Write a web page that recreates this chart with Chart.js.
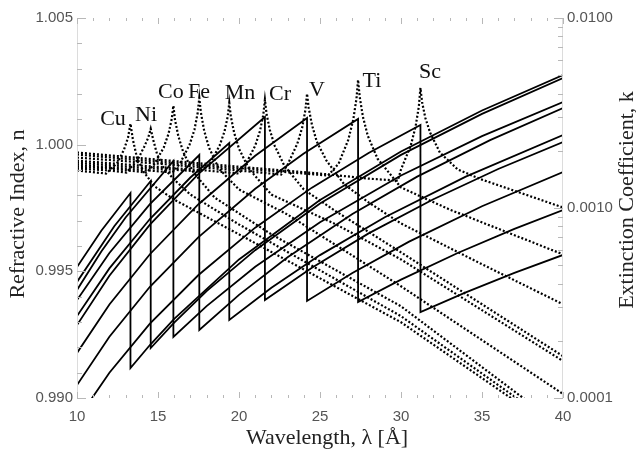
<!DOCTYPE html>
<html>
<head>
<meta charset="utf-8">
<title>Refractive index and extinction coefficient, Sc to Cu</title>
<script src="https://cdn.jsdelivr.net/npm/chart.js@4/dist/chart.umd.min.js"></script>
<style>
  html, body { margin: 0; padding: 0; background: #fff; }
  canvas { display: block; }
</style>
</head>
<body>
<canvas id="chart" width="636" height="452"></canvas>
<script>
const elements = ['Cu', 'Ni', 'Co', 'Fe', 'Mn', 'Cr', 'V', 'Ti', 'Sc'];

// extinction coefficient k, [wavelength in Å, k]; the repeated wavelength is the L edge
const kCu = [[10, 4.89e-4], [11.5, 7.59e-4], [13.3, 1.199e-3], [13.3, 1.438e-4], [14.5, 1.90e-4], [16, 2.61e-4], [20, 5.36e-4], [25, 1.101e-3], [30, 1.982e-3], [35, 3.26e-3], [40, 5.01e-3]];
const kNi = [[10, 4.08e-4], [12.3, 8.02e-4], [14.55, 1.387e-3], [14.55, 1.832e-4], [16, 2.49e-4], [18, 3.65e-4], [21, 6.00e-4], [25, 1.056e-3], [30, 1.903e-3], [35, 3.13e-3], [40, 4.83e-3]];
const kCo = [[10, 3.70e-4], [11.5, 5.91e-4], [13, 8.91e-4], [15.95, 1.768e-3], [15.95, 2.094e-4], [18, 3.045e-4], [21, 4.91e-4], [25, 8.42e-4], [30, 1.482e-3], [35, 2.388e-3], [40, 3.61e-3]];
const kFe = [[10, 3.28e-4], [12, 5.80e-4], [14.5, 1.047e-3], [17.55, 1.901e-3], [17.55, 2.28e-4], [20, 3.49e-4], [23, 5.51e-4], [27, 9.31e-4], [31, 1.462e-3], [35.5, 2.276e-3], [40, 3.36e-3]];
const kMn = [[10, 2.70e-4], [12, 4.81e-4], [14.5, 8.75e-4], [17, 1.447e-3], [19.4, 2.198e-3], [19.4, 2.575e-4], [22, 3.80e-4], [25, 5.65e-4], [29, 8.94e-4], [34, 1.463e-3], [40, 2.42e-3]];
const kCr = [[10, 2.42e-4], [12, 4.40e-4], [14.5, 8.17e-4], [17.5, 1.513e-3], [21.6, 3.013e-3], [21.6, 3.28e-4], [24.5, 4.85e-4], [28, 7.35e-4], [32, 1.112e-3], [36, 1.604e-3], [40, 2.225e-3]];
const kV  = [[10, 1.726e-4], [12, 3.105e-4], [14.5, 5.71e-4], [17.5, 1.047e-3], [21, 1.884e-3], [24.2, 2.977e-3], [24.2, 3.24e-4], [27, 4.55e-4], [30.5, 6.65e-4], [35, 1.021e-3], [40, 1.547e-3]];
const kTi = [[10, 1.17e-4], [12, 2.10e-4], [14.5, 3.85e-4], [17.5, 7.03e-4], [21, 1.262e-3], [24, 1.935e-3], [27.35, 2.941e-3], [27.35, 3.20e-4], [30, 4.20e-4], [33.5, 5.80e-4], [37, 7.76e-4], [40, 9.76e-4]];
const kSc = [[10, 7.66e-5], [12, 1.358e-4], [14.5, 2.46e-4], [17.5, 4.44e-4], [21, 7.88e-4], [24.5, 1.280e-3], [28, 1.946e-3], [31.2, 2.734e-3], [31.2, 2.835e-4], [34, 3.60e-4], [37, 4.56e-4], [40, 5.66e-4]];

// refractive index n, [wavelength in Å, n]
const nCu = [[10, 0.99898], [11.8, 0.99886], [12.5, 0.99929], [12.9, 0.99980], [13.15, 1.00028], [13.3, 1.00083], [13.45, 1.00020], [13.7, 0.99949], [14.1, 0.99894], [14.8, 0.99835], [16, 0.99783], [20, 0.99646], [30, 0.99299], [40, 0.98858]];
const nNi = [[10, 0.99906], [12, 0.99898], [13.05, 0.99890], [13.75, 0.99941], [14.15, 0.99992], [14.4, 1.00028], [14.55, 1.00063], [14.7, 1.00020], [14.95, 0.99961], [15.35, 0.99909], [16, 0.99862], [17, 0.99803], [20, 0.99685], [30, 0.99323], [40, 0.98870]];
const nCo = [[10, 0.99913], [12, 0.99906], [14.3, 0.99890], [14.75, 0.99921], [15.35, 0.99988], [15.65, 1.00043], [15.85, 1.00102], [15.95, 1.00154], [16.05, 1.00098], [16.25, 1.00035], [16.55, 0.99972], [17.15, 0.99894], [18.5, 0.99791], [22, 0.99646], [30, 0.99362], [40, 0.98882]];
const nFe = [[10, 0.99921], [13, 0.99906], [15.9, 0.99890], [16.35, 0.99925], [16.95, 1.00000], [17.25, 1.00059], [17.45, 1.00126], [17.55, 1.00185], [17.65, 1.00126], [17.85, 1.00055], [18.15, 0.99988], [18.75, 0.99906], [20, 0.99823], [23, 0.99724], [30, 0.99441], [40, 0.99016]];
const nMn = [[10, 0.99929], [14, 0.99909], [17.6, 0.99894], [18.2, 0.99925], [18.8, 0.99996], [19.1, 1.00051], [19.3, 1.00110], [19.4, 1.00165], [19.5, 1.00110], [19.7, 1.00047], [20.0, 0.99984], [20.6, 0.99906], [22, 0.99803], [26, 0.99685], [30, 0.99547], [40, 0.99146]];
const nCr = [[10, 0.99937], [14, 0.99917], [18, 0.99898], [20, 0.99886], [20.4, 0.99921], [21.0, 0.99996], [21.3, 1.00055], [21.5, 1.00118], [21.6, 1.00177], [21.7, 1.00122], [21.9, 1.00059], [22.2, 0.99996], [22.8, 0.99917], [24, 0.99823], [26, 0.99736], [30, 0.99575], [35, 0.99370], [40, 0.99165]];
const nV  = [[10, 0.99949], [15, 0.99925], [20, 0.99898], [22.6, 0.99882], [23.0, 0.99921], [23.6, 1.00004], [23.9, 1.00067], [24.1, 1.00138], [24.2, 1.00201], [24.3, 1.00146], [24.5, 1.00079], [24.8, 1.00012], [25.4, 0.99937], [26.5, 0.99843], [28, 0.99772], [30, 0.99689], [35, 0.99528], [40, 0.99370]];
const nTi = [[10, 0.99961], [15, 0.99933], [20, 0.99906], [24, 0.99886], [25.5, 0.99878], [26.15, 0.99925], [26.75, 1.00020], [27.05, 1.00098], [27.25, 1.00181], [27.35, 1.00256], [27.45, 1.00189], [27.65, 1.00110], [27.95, 1.00035], [28.55, 0.99945], [30, 0.99831], [33, 0.99744], [40, 0.99567]];
const nSc = [[10, 0.99969], [15, 0.99941], [20, 0.99913], [25, 0.99886], [28, 0.99866], [29.8, 0.99858], [30.0, 0.99902], [30.6, 0.99996], [30.9, 1.00071], [31.1, 1.00150], [31.2, 1.00224], [31.3, 1.00169], [31.5, 1.00106], [31.8, 1.00047], [32.4, 0.99969], [33.5, 0.99902], [35, 0.99862], [40, 0.99752]];

const kSeries = [kCu, kNi, kCo, kFe, kMn, kCr, kV, kTi, kSc];
const nSeries = [nCu, nNi, nCo, nFe, nMn, nCr, nV, nTi, nSc];

// tick labels
const lambdaTicks = [10, 15, 20, 25, 30, 35, 40];
const nTicks = [0.990, 0.995, 1.000, 1.005];
const kTicks = [0.0001, 0.0010, 0.0100];

// where the element names sit (wavelength, n)
const labelLambda = [12.22, 14.26, 15.80, 17.53, 20.06, 22.53, 24.81, 28.21, 31.79];
const labelN = [1.00102, 1.00118, 1.00209, 1.00209, 1.00205, 1.00201, 1.00213, 1.00252, 1.00287];

const serif = '"Liberation Serif", "Times New Roman", serif';

function toPoints(list) {
  return list.map(p => ({ x: p[0], y: p[1] }));
}

const datasets = [];
elements.forEach((el, i) => {
  datasets.push({
    label: el + ' n',
    data: toPoints(nSeries[i]),
    yAxisID: 'n',
    borderColor: '#000',
    borderWidth: 2.2,
    borderDash: [2, 2],
    pointRadius: 0,
    tension: 0,
    fill: false
  });
  datasets.push({
    label: el + ' k',
    data: toPoints(kSeries[i]),
    yAxisID: 'k',
    borderColor: '#000',
    borderWidth: 1.8,
    pointRadius: 0,
    tension: 0,
    fill: false
  });
});

// inward ticks, faint axis lines, element names and axis titles
const frame = {
  id: 'frame',
  afterDatasetsDraw(chart) {
    const { ctx, chartArea: area, scales } = chart;
    const xs = scales.x, ns = scales.n, ks = scales.k;
    ctx.save();
    ctx.lineWidth = 1;

    ctx.strokeStyle = '#dcdcdc';
    ctx.beginPath();
    ctx.moveTo(area.left + 0.5, area.top);
    ctx.lineTo(area.left + 0.5, area.bottom);
    ctx.moveTo(area.right - 0.5, area.top);
    ctx.lineTo(area.right - 0.5, area.bottom);
    ctx.stroke();

    ctx.strokeStyle = '#b8b8b8';
    ctx.beginPath();
    for (let i = 0; i <= 15; i++) {
      const y = Math.round(ns.getPixelForValue(0.990 + i * 0.001)) + 0.5;
      const len = i % 5 === 0 ? 9 : 5;
      ctx.moveTo(area.left, y);
      ctx.lineTo(area.left + len, y);
    }
    for (let d = -4; d <= -2; d++) {
      for (let m = 1; m <= 9; m++) {
        if (d === -2 && m > 1) break;
        const y = Math.round(ks.getPixelForValue(m * Math.pow(10, d))) + 0.5;
        const len = m === 1 ? 9 : 5;
        ctx.moveTo(area.right, y);
        ctx.lineTo(area.right - len, y);
      }
    }
    for (let w = 10; w <= 40; w++) {
      const x = Math.round(xs.getPixelForValue(w)) + 0.5;
      const len = w % 5 === 0 ? 6 : 3;
      ctx.moveTo(x, area.bottom);
      ctx.lineTo(x, area.bottom - len);
      ctx.moveTo(x, area.top);
      ctx.lineTo(x, area.top + len);
    }
    ctx.stroke();

    ctx.fillStyle = '#111';
    ctx.font = '22px ' + serif;
    ctx.textAlign = 'center';
    ctx.textBaseline = 'middle';
    elements.forEach((name, i) => {
      ctx.fillText(name, xs.getPixelForValue(labelLambda[i]), ns.getPixelForValue(labelN[i]));
    });

    ctx.fillStyle = '#222';
    ctx.textBaseline = 'alphabetic';
    ctx.fillText('Wavelength, \u03bb [\u00c5]', (area.left + area.right) / 2 + 7, 444);

    ctx.save();
    ctx.translate(24, 214);
    ctx.rotate(-Math.PI / 2);
    ctx.fillText('Refractive Index, n', 0, 0);
    ctx.restore();

    ctx.save();
    ctx.translate(633, 200);
    ctx.rotate(-Math.PI / 2);
    ctx.fillText('Extinction Coefficient, k', 0, 0);
    ctx.restore();

    ctx.restore();
  }
};

const tickFont = { family: '"Liberation Sans", Arial, sans-serif', size: 15 };

new Chart(document.getElementById('chart'), {
  type: 'line',
  data: { datasets: datasets },
  options: {
    responsive: false,
    animation: false,
    devicePixelRatio: 1,
    layout: { padding: { top: 18, left: 0, right: 0, bottom: 0 } },
    plugins: {
      legend: { display: false },
      tooltip: { enabled: false }
    },
    scales: {
      x: {
        type: 'linear',
        position: 'bottom',
        min: 10,
        max: 40,
        grid: { display: false, drawTicks: false },
        border: { display: false },
        afterBuildTicks: s => { s.ticks = lambdaTicks.map(v => ({ value: v })); },
        ticks: { color: '#555', font: tickFont, padding: 10, maxRotation: 0, autoSkip: false },
        afterFit: s => { s.height = 54; }
      },
      n: {
        type: 'linear',
        position: 'left',
        min: 0.990,
        max: 1.005,
        grid: { display: false, drawTicks: false },
        border: { display: false },
        afterBuildTicks: s => { s.ticks = nTicks.map(v => ({ value: v })); },
        ticks: { color: '#555', font: tickFont, padding: 4, autoSkip: false, callback: v => v.toFixed(3) },
        afterFit: s => { s.width = 77; }
      },
      k: {
        type: 'logarithmic',
        position: 'right',
        min: 0.0001,
        max: 0.01,
        grid: { display: false, drawTicks: false },
        border: { display: false },
        afterBuildTicks: s => { s.ticks = kTicks.map(v => ({ value: v })); },
        ticks: { color: '#555', font: tickFont, padding: 4, autoSkip: false, callback: v => Number(v).toFixed(4) },
        afterFit: s => { s.width = 73; }
      }
    }
  },
  plugins: [frame]
});
</script>
</body>
</html>
